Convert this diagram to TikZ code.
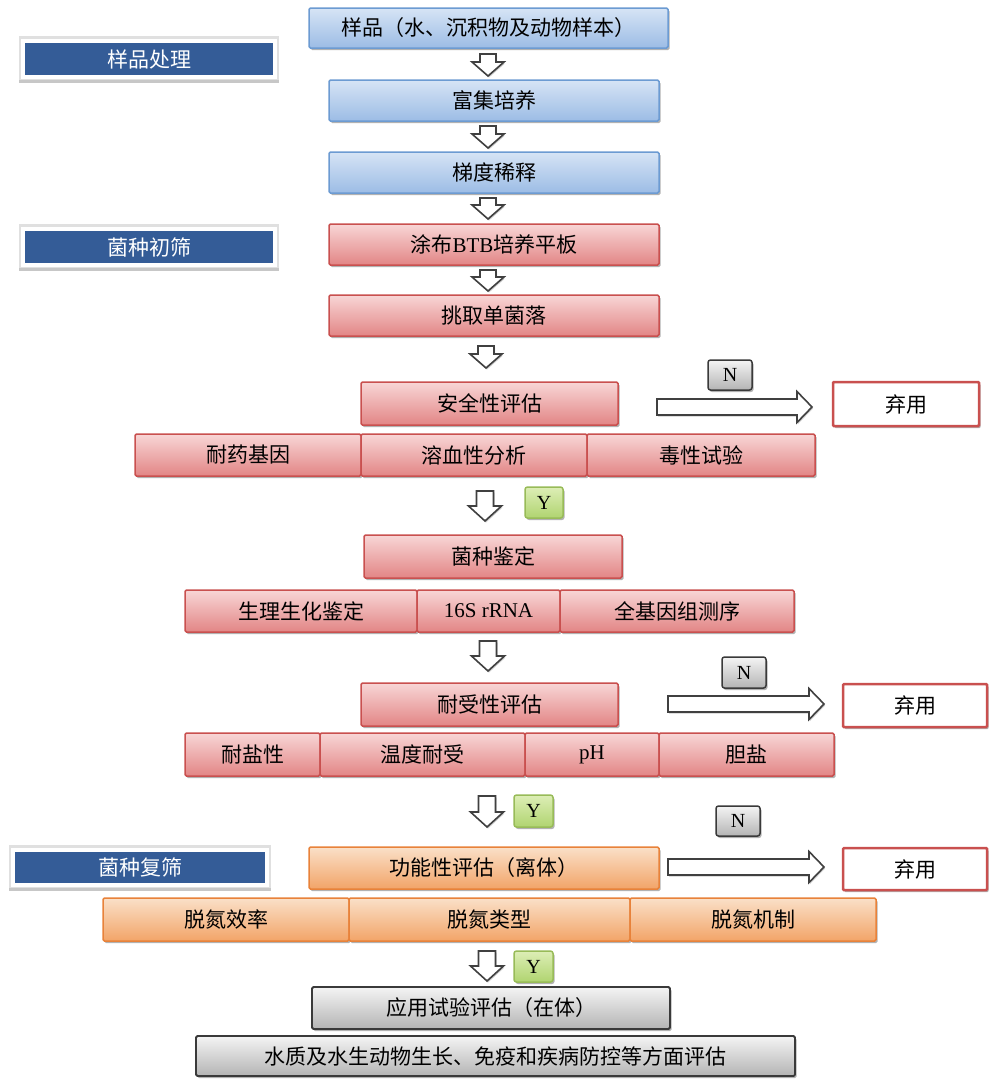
\documentclass[tikz,border=0pt]{standalone}
\usepackage{fontspec}
\setmainfont{Liberation Serif}
\newfontfamily\cjk{Noto Sans CJK SC}
\usetikzlibrary{shadows}
\definecolor{bluetop}{HTML}{D6E4F5}
\definecolor{bluebot}{HTML}{9CBCE5}
\definecolor{blueline}{HTML}{6C9BD2}
\definecolor{redtop}{HTML}{F8D6D6}
\definecolor{redbot}{HTML}{E28585}
\definecolor{redline}{HTML}{C9504F}
\definecolor{ortop}{HTML}{FAE0C8}
\definecolor{orbot}{HTML}{F2A468}
\definecolor{orline}{HTML}{E8823A}
\definecolor{graytop}{HTML}{F4F4F4}
\definecolor{graybot}{HTML}{B4B4B4}
\definecolor{grayline}{HTML}{3A3A3A}
\definecolor{labelblue}{HTML}{345C97}
\definecolor{grtop}{HTML}{DDEEB6}
\definecolor{grbot}{HTML}{B0D470}
\definecolor{grline}{HTML}{98BB58}
\definecolor{arrline}{HTML}{404040}
\tikzset{
  every node/.style={font=\cjk\fontsize{21}{25}\selectfont, inner sep=0pt, outer sep=0pt},
  shad/.style={drop shadow={shadow xshift=1.5pt, shadow yshift=-2pt, opacity=.3, fill=black}},
  bluebox/.style={shad, draw=blueline, line width=1.5pt, rounded corners=1.5pt, top color=bluetop, bottom color=bluebot},
  redbox/.style={shad, draw=redline, line width=1.5pt, rounded corners=1.5pt, top color=redtop, bottom color=redbot},
  orbox/.style={shad, draw=orline, line width=1.5pt, rounded corners=1.5pt, top color=ortop, bottom color=orbot},
  graybox/.style={shad, draw=grayline, line width=1.8pt, rounded corners=1.5pt, top color=graytop, bottom color=graybot},
  labelbox/.style={preaction={draw=black!22, line width=8pt, transform canvas={yshift=-1.5pt}},
                   preaction={draw=black!12, line width=8pt, transform canvas={yshift=1pt}},
                   fill=labelblue, draw=white, line width=4pt, text=white},
  nbox/.style={shad, draw=grayline, line width=1.5pt, rounded corners=2.5pt, top color=graytop, bottom color=graybot, font=\rmfamily\fontsize{20}{24}\selectfont},
  ybox/.style={shad, draw=grline, line width=1.5pt, rounded corners=2.5pt, top color=grtop, bottom color=grbot, font=\rmfamily\fontsize{20}{24}\selectfont},
  discard/.style={shad, draw=redline, line width=2.5pt, fill=white, rounded corners=1pt},
  harrow/.style={draw=arrline, line width=1.6pt, fill=white, line join=miter, drop shadow={shadow xshift=1pt, shadow yshift=-1.5pt, opacity=.2, fill=black}}
}
% \bx[style]{x1}{y1}{x2}{y2}{name}{text}
\newcommand\bx[7][]{\node[#1, minimum width={#4-#2}, minimum height={#5-#3}] (#6) at ({(#2+#4)/2},{(#3+#5)/2}) {#7};}
% \darr{x}{ytop}{ybot}{shaft half}{head half}{head length}
\newcommand\darr[6]{\draw[harrow] (#1-#4,#2) -- (#1+#4,#2) -- (#1+#4,#3-#6) -- (#1+#5,#3-#6) -- (#1,#3) -- (#1-#5,#3-#6) -- (#1-#4,#3-#6) -- cycle;}
% \rarr{x1}{x2}{y}
\newcommand\rarr[3]{\draw[harrow] (#1,#3-8) -- (#2-15,#3-8) -- (#2-15,#3-15.5) -- (#2,#3) -- (#2-15,#3+15.5) -- (#2-15,#3+8) -- (#1,#3+8) -- cycle;}
\begin{document}
\begin{tikzpicture}[x=1pt,y=-1pt]
\useasboundingbox[fill=white] (0,0) rectangle (989,1079);
% stage labels
\bx[labelbox]{23}{41}{275}{77}{L1}{样品处理}
\bx[labelbox]{23}{229}{275}{265}{L2}{菌种初筛}
\bx[labelbox]{13}{850}{267}{885}{L3}{菌种复筛}
% blue stage
\bx[bluebox]{309}{8}{668}{48}{s1}{样品（水、沉积物及动物样本）}
\bx[bluebox]{329}{80}{659}{121}{s2}{富集培养}
\bx[bluebox]{329}{152}{659}{193}{s3}{梯度稀释}
% red stage
\bx[redbox]{329}{224}{659}{265}{s4}{涂布{\rmfamily BTB}培养平板}
\bx[redbox]{329}{295}{659}{336}{s5}{挑取单菌落}
\bx[redbox]{361}{382}{618}{425}{s6}{安全性评估}
\bx[redbox]{135}{434}{361}{476}{s6a}{耐药基因}
\bx[redbox]{361}{434}{587}{476}{s6b}{溶血性分析}
\bx[redbox]{587}{434}{815}{476}{s6c}{毒性试验}
\bx[nbox]{708}{360}{752}{390}{n1}{N}
\bx[discard]{833}{382}{979}{426}{d1}{弃用}
\bx[ybox]{525}{487}{563}{518}{y1}{Y}
\bx[redbox]{364}{535}{622}{578}{s7}{菌种鉴定}
\bx[redbox]{185}{590}{417}{632}{s7a}{生理生化鉴定}
\bx[redbox]{417}{590}{560}{632}{s7b}{{\rmfamily 16S rRNA}}
\bx[redbox]{560}{590}{794}{632}{s7c}{全基因组测序}
\bx[redbox]{361}{683}{618}{726}{s8}{耐受性评估}
\bx[nbox]{722}{657}{766}{688}{n2}{N}
\bx[discard]{843}{684}{987}{727}{d2}{弃用}
\bx[redbox]{185}{733}{320}{776}{s8a}{耐盐性}
\bx[redbox]{320}{733}{525}{776}{s8b}{温度耐受}
\bx[redbox]{525}{733}{659}{776}{s8c}{{\rmfamily pH}}
\bx[redbox]{659}{733}{834}{776}{s8d}{胆盐}
\bx[ybox]{514}{795}{553}{827}{y2}{Y}
\bx[nbox]{716}{806}{760}{836}{n3}{N}
% orange stage
\bx[orbox]{309}{847}{659}{889}{s9}{功能性评估（离体）}
\bx[discard]{843}{848}{987}{890}{d3}{弃用}
\bx[orbox]{103}{898}{349}{941}{s9a}{脱氮效率}
\bx[orbox]{349}{898}{630}{941}{s9b}{脱氮类型}
\bx[orbox]{630}{898}{876}{941}{s9c}{脱氮机制}
\bx[ybox]{514}{951}{553}{982}{y3}{Y}
% gray stage
\bx[graybox]{312}{987}{670}{1029}{s10}{应用试验评估（在体）}
\bx[graybox]{196}{1036}{795}{1076}{s11}{水质及水生动物生长、免疫和疾病防控等方面评估}
% down arrows
\darr{488}{54}{76}{8}{16}{14}
\darr{488}{126}{148}{8}{16}{14}
\darr{488}{198}{219}{8}{16}{14}
\darr{488}{270}{291}{8}{16}{14}
\darr{486}{346}{368}{8}{16}{14}
\darr{485}{491}{521}{8.5}{16.5}{15}
\darr{488}{641}{671}{8.5}{16.5}{15}
\darr{487}{796}{827}{8.5}{16.5}{15}
\darr{487}{951}{981}{8.5}{16.5}{15}
% right arrows
\rarr{657}{812}{407}
\rarr{668}{824}{704}
\rarr{668}{824}{867}
\end{tikzpicture}
\end{document}
